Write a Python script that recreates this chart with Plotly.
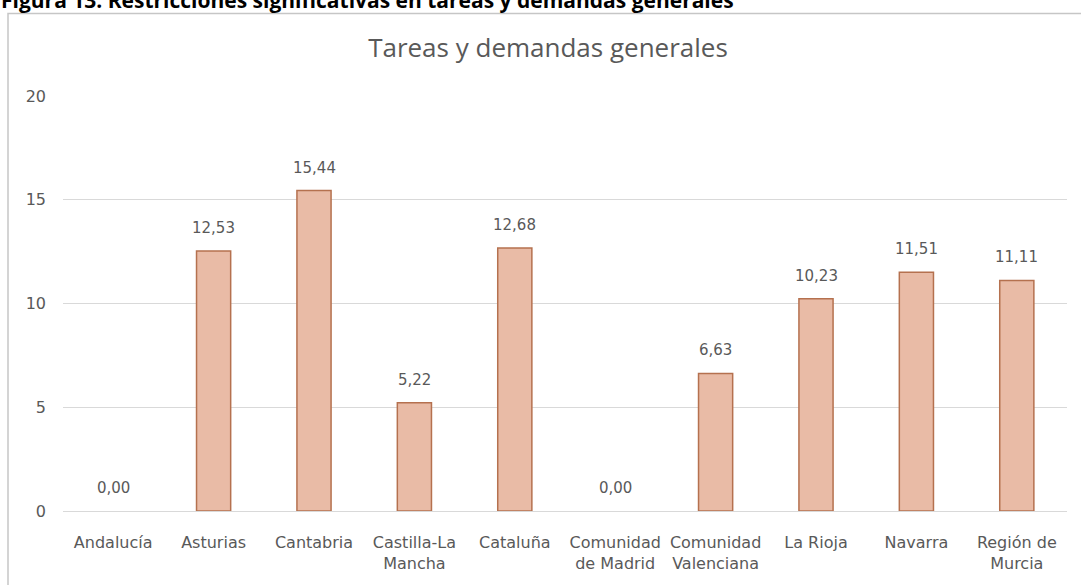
import plotly.graph_objects as go

categories = ["Andalucía", "Asturias", "Cantabria", "Castilla-La<br>Mancha", "Cataluña",
              "Comunidad<br>de Madrid", "Comunidad<br>Valenciana", "La Rioja", "Navarra",
              "Región de<br>Murcia"]
values = [0.00, 12.53, 15.44, 5.22, 12.68, 0.00, 6.63, 10.23, 11.51, 11.11]
y_ticks = [0, 5, 10, 15, 20]
labels = [f"{v:.2f}".replace(".", ",") for v in values]

W, H = 1081, 585
L, R, T, B = 63, 1067, 96, 511


def px_x(px):
    return (px - L) / (R - L)


def px_y(py):
    return (B - py) / (B - T)


fig = go.Figure()
fig.add_trace(go.Bar(
    x=categories, y=values,
    marker=dict(color="#E9BBA6",
                line=dict(color="#B5714F", width=[1.5 if v > 0 else 0 for v in values])),
    width=0.34,
    hoverinfo="skip",
))

for c, v, t in zip(categories, values, labels):
    fig.add_annotation(x=c, y=v, xref="x", yref="y", text=t, showarrow=False,
                       yanchor="bottom", yshift=12,
                       font=dict(family="DejaVu Sans", size=15, color="#595959"))

# caption at the top (cut off by the page edge)
fig.add_annotation(xref="paper", yref="paper", x=px_x(-1), y=px_y(16),
                   xanchor="left", yanchor="bottom", showarrow=False,
                   text="<b>Figura 13. Restricciones significativas en tareas y demandas generales</b>",
                   font=dict(family="Open Sans", size=21, color="#000000"))

# chart border
fig.add_shape(type="rect", xref="paper", yref="paper",
              x0=px_x(8), x1=px_x(1110), y0=px_y(640), y1=px_y(13.5),
              line=dict(color="#C6C6C6", width=1.5), layer="below")

fig.update_layout(
    width=W, height=H,
    margin=dict(l=L, r=W - R, t=T, b=H - B),
    paper_bgcolor="white", plot_bgcolor="white",
    showlegend=False,
    title=dict(text="Tareas y demandas generales", x=548 / W, xanchor="center",
               y=1 - 48 / H, yanchor="middle", yref="container",
               font=dict(family="Open Sans", size=26, color="#595959")),
    bargap=0.66,
)
fig.update_yaxes(range=[0, 20], tickvals=y_ticks, showgrid=True, gridcolor="#D9D9D9",
                 gridwidth=1, zeroline=False, showline=False, ticks="",
                 ticklabelstandoff=16,
                 tickfont=dict(family="DejaVu Sans", size=16, color="#595959"))
fig.update_xaxes(showline=True, linecolor="#D9D9D9", linewidth=1, ticks="",
                 ticklabelstandoff=17,
                 tickfont=dict(family="DejaVu Sans", size=16, color="#595959"))

fig.write_html("out.html", config={"displayModeBar": False},
               post_script="document.body.style.margin='0';document.body.style.overflow='hidden';")
